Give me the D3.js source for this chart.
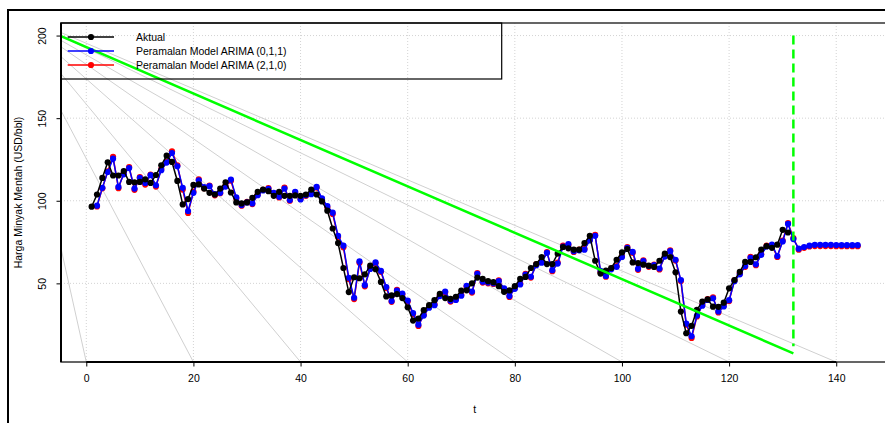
<!DOCTYPE html>
<html>
<head>
<meta charset="utf-8">
<script src="https://cdn.jsdelivr.net/npm/d3@7"></script>
<style>
  html, body { margin: 0; padding: 0; background: #fff; }
  svg { display: block; font-family: "Liberation Sans", Arial, Helvetica, sans-serif; }
</style>
</head>
<body>
<svg id="chart" width="885" height="423"></svg>
<script>
// ---- data -------------------------------------------------------------
// Monthly crude oil price (USD/bbl), t = 1 .. 131
const actualStart = 1;
const actual = [
  96.4, 103.8, 113.8, 123.3, 115.3, 115.3, 118.0, 111.4, 111.2, 111.4,
  113.0, 110.8, 115.6, 121.5, 127.3, 123.5, 112.0, 97.8, 101.0, 109.6,
  109.9, 107.4, 104.8, 103.8, 107.4, 111.2, 105.0, 99.0, 98.4, 99.0,
  101.8, 105.4, 106.8, 105.8, 103.0, 105.4, 103.0, 103.0, 103.2, 103.0,
  103.8, 106.8, 103.8, 99.6, 94.0, 83.2, 74.4, 59.3, 44.7, 53.7,
  53.1, 55.5, 60.7, 58.6, 50.9, 42.1, 42.7, 43.5, 41.1, 35.5,
  27.5, 28.7, 33.8, 36.8, 39.8, 43.7, 41.1, 40.6, 41.9, 45.6,
  45.8, 50.0, 53.5, 52.7, 51.3, 50.7, 48.3, 44.9, 45.7, 48.3,
  52.7, 53.9, 59.3, 61.7, 65.9, 61.7, 61.7, 68.0, 72.0, 71.2,
  70.4, 70.4, 74.4, 78.8, 63.7, 55.9, 57.7, 59.3, 64.3, 68.7,
  70.8, 62.7, 62.3, 61.3, 60.7, 59.9, 63.7, 68.0, 65.9, 56.7,
  32.9, 19.8, 24.3, 34.0, 39.0, 40.3, 35.9, 35.8, 38.3, 47.0,
  52.0, 57.0, 63.0, 63.0, 65.8, 70.4, 72.5, 71.5, 73.4, 82.4,
  80.8
];

// Fitted values and forecasts, t = 2 .. 144
const fittedStart = 2;
const arima011 = [
  97.0, 107.8, 117.4, 125.5, 108.4, 116.0, 119.8, 107.4, 113.8, 110.8,
  115.5, 109.4, 118.5, 123.1, 128.9, 120.9, 107.8, 93.8, 104.8, 112.4,
  108.2, 108.8, 104.0, 104.8, 108.6, 112.8, 102.0, 97.4, 99.0, 98.4,
  103.4, 106.2, 107.2, 104.8, 102.4, 107.4, 100.4, 105.4, 100.8, 103.4,
  104.0, 108.4, 101.4, 96.8, 92.8, 78.8, 72.8, 53.4, 41.3, 63.3,
  48.9, 58.7, 62.7, 57.5, 47.8, 39.3, 45.6, 43.8, 39.6, 32.0,
  25.0, 30.5, 35.3, 36.8, 42.3, 45.0, 39.5, 40.0, 42.5, 48.5,
  45.0, 55.7, 51.0, 50.5, 50.0, 51.3, 47.0, 42.3, 46.7, 49.3,
  55.3, 54.0, 61.0, 62.5, 68.4, 58.0, 62.0, 72.3, 73.8, 69.5,
  70.0, 70.4, 76.0, 78.8, 57.5, 54.5, 58.5, 60.0, 66.0, 71.5,
  69.0, 58.8, 63.5, 60.5, 61.0, 59.0, 66.2, 69.5, 64.3, 52.0,
  25.6, 18.0, 30.5, 36.5, 40.0, 41.0, 33.0, 36.0, 39.8, 51.3,
  55.5, 60.5, 65.5, 61.5, 67.3, 72.3, 73.5, 66.5, 75.4, 86.0,
  76.8, 71.0, 72.0, 72.8, 73.3, 73.3, 73.3, 73.3, 73.2, 73.2,
  73.1, 73.1, 73.1
];
const arima210 = [
  96.6, 107.5, 117.8, 126.6, 107.6, 116.8, 120.4, 106.6, 114.3, 109.8,
  115.9, 108.6, 119.2, 123.6, 129.9, 121.5, 106.8, 92.6, 105.6, 112.9,
  107.6, 109.2, 103.3, 104.6, 109.1, 112.1, 101.3, 97.0, 99.4, 98.0,
  103.9, 106.6, 107.6, 104.2, 102.0, 107.9, 100.0, 105.0, 101.2, 103.0,
  104.4, 108.0, 100.8, 96.0, 92.0, 78.0, 71.8, 52.6, 40.5, 62.5,
  48.2, 59.3, 62.1, 57.0, 47.2, 38.8, 46.0, 43.2, 39.0, 31.4,
  24.2, 31.0, 35.8, 37.4, 42.8, 44.5, 39.0, 40.5, 43.0, 48.0,
  44.4, 56.2, 50.5, 50.0, 49.6, 51.8, 46.4, 41.8, 47.2, 49.8,
  55.8, 53.5, 61.5, 63.0, 68.9, 57.4, 62.6, 72.8, 73.2, 69.0,
  70.4, 70.9, 76.4, 79.3, 56.8, 54.0, 59.0, 60.5, 66.5, 72.0,
  68.4, 58.2, 64.0, 60.0, 61.4, 58.4, 66.7, 70.0, 63.8, 51.4,
  25.0, 17.0, 30.0, 37.0, 40.5, 41.5, 32.4, 36.5, 39.3, 51.8,
  56.0, 60.0, 66.0, 61.0, 67.8, 72.8, 73.0, 66.0, 75.9, 86.5,
  77.4, 70.4, 71.5, 72.3, 72.6, 72.6, 72.6, 72.6, 72.5, 72.5,
  72.5, 72.5, 72.5
];

const xTicks = [0, 20, 40, 60, 80, 100, 120, 140];
const yTicks = [50, 100, 150, 200];
const trendLine = [[-5, 200], [132, 7.6]];     // solid green line (t, value)
const forecastCut = [[132, 12], [132, 200]];    // dashed green marker (t, value)
const legendLabels = ["Aktual", "Peramalan Model ARIMA (0,1,1)", "Peramalan Model ARIMA (2,1,0)"];
const seriesColors = ["#000000", "#0000ff", "#ff0000"];

// ---- layout -------------------------------------------------------------
const W = 885, H = 423;
const plot = { left: 61, top: 23, right: 888.3, bottom: 362 };
const frame = { left: 8, top: 10 };
const fontSize = 10.5;
const dotR = 3.1;

const svg = d3.select("#chart");

const x = d3.scaleLinear().domain([-4.72, 149.72]).range([plot.left, plot.right]);
const y = d3.scaleLinear().domain([2.4, 207.6]).range([plot.bottom, plot.top]);

const toPoints = (arr, start) => arr.map((v, i) => ({ t: start + i, v }));
const series = [
  { data: toPoints(arima210, fittedStart), color: seriesColors[2] },
  { data: toPoints(arima011, fittedStart), color: seriesColors[1] },
  { data: toPoints(actual, actualStart), color: seriesColors[0] }
];

svg.append("defs").append("clipPath").attr("id", "plotClip")
  .append("rect")
  .attr("x", plot.left).attr("y", plot.top)
  .attr("width", plot.right - plot.left).attr("height", plot.bottom - plot.top);

// outer figure frame
svg.append("rect")
  .attr("x", frame.left).attr("y", frame.top)
  .attr("width", W + 40).attr("height", H + 40)
  .attr("fill", "none").attr("stroke", "#000").attr("stroke-width", 2);

const inner = svg.append("g").attr("clip-path", "url(#plotClip)");

// dotted grid
inner.selectAll("line.gx").data(xTicks).join("line")
  .attr("x1", d => x(d)).attr("x2", d => x(d))
  .attr("y1", plot.top).attr("y2", plot.bottom)
  .attr("stroke", "#d3d3d3").attr("stroke-width", 1).attr("stroke-dasharray", "1,2");
inner.selectAll("line.gy").data(yTicks).join("line")
  .attr("x1", plot.left).attr("x2", plot.right)
  .attr("y1", d => y(d)).attr("y2", d => y(d))
  .attr("stroke", "#d3d3d3").attr("stroke-width", 1).attr("stroke-dasharray", "1,2");

// grey guide rays from the figure corner to each x tick on the axis
inner.selectAll("line.ray").data(xTicks).join("line")
  .attr("x1", frame.left).attr("y1", frame.top)
  .attr("x2", d => x(d)).attr("y2", plot.bottom)
  .attr("stroke", "#d0d0d0").attr("stroke-width", 1);

// series: lines then points
const line = d3.line().x(d => x(d.t)).y(d => y(d.v));
series.forEach(s => {
  inner.append("path").datum(s.data)
    .attr("d", line).attr("fill", "none")
    .attr("stroke", s.color).attr("stroke-width", 1.5);
  inner.append("g").selectAll("circle").data(s.data).join("circle")
    .attr("cx", d => x(d.t)).attr("cy", d => y(d.v)).attr("r", dotR)
    .attr("fill", s.color);
});

// green trend line and forecast marker
inner.append("line")
  .attr("x1", x(trendLine[0][0])).attr("y1", y(trendLine[0][1]))
  .attr("x2", x(trendLine[1][0])).attr("y2", y(trendLine[1][1]))
  .attr("stroke", "#00ff00").attr("stroke-width", 2.5);
inner.append("line")
  .attr("x1", x(forecastCut[0][0])).attr("y1", y(forecastCut[1][1]))
  .attr("x2", x(forecastCut[1][0])).attr("y2", y(forecastCut[0][1]))
  .attr("stroke", "#00ff00").attr("stroke-width", 2.5).attr("stroke-dasharray", "9,5");

// plot box and axes
svg.append("rect")
  .attr("x", plot.left).attr("y", plot.top)
  .attr("width", plot.right - plot.left).attr("height", plot.bottom - plot.top)
  .attr("fill", "none").attr("stroke", "#333").attr("stroke-width", 1.5);

const xAxis = d3.axisBottom(x).tickValues(xTicks).tickSize(4.5).tickPadding(8).tickFormat(d3.format("d"));
const gx = svg.append("g").attr("transform", `translate(0,${plot.bottom})`).call(xAxis);
gx.select(".domain").remove();
gx.append("line").attr("x1", x(xTicks[0])).attr("x2", x(xTicks[xTicks.length - 1]))
  .attr("stroke", "#000").attr("stroke-width", 2);
gx.selectAll(".tick line").attr("stroke", "#000");
gx.selectAll(".tick text").attr("fill", "#000")
  .style("font-size", fontSize + "px").style("font-family", '"Liberation Sans", Arial, sans-serif');

const yAxis = d3.axisLeft(y).tickValues(yTicks).tickSize(4.5).tickFormat(d3.format("d"));
const gy = svg.append("g").attr("transform", `translate(${plot.left},0)`).call(yAxis);
gy.select(".domain").remove();
gy.append("line").attr("y1", plot.top).attr("y2", plot.bottom)
  .attr("stroke", "#000").attr("stroke-width", 2);
gy.selectAll(".tick line").attr("stroke", "#000");
gy.selectAll(".tick text").remove();
gy.selectAll(".tick").append("text")
  .attr("transform", "translate(-15.3,0) rotate(-90)")
  .attr("text-anchor", "middle")
  .attr("fill", "#000")
  .style("font-size", fontSize + "px").style("font-family", '"Liberation Sans", Arial, sans-serif')
  .text(d => d);

// axis titles
svg.append("text")
  .attr("transform", `translate(21.7,${(plot.top + plot.bottom) / 2}) rotate(-90)`)
  .attr("text-anchor", "middle").style("font-size", fontSize + "px")
  .text("Harga Minyak Mentah (USD/bbl)");
svg.append("text")
  .attr("x", (plot.left + plot.right) / 2).attr("y", 412.5)
  .attr("text-anchor", "middle").style("font-size", fontSize + "px")
  .text("t");

// legend
const legend = svg.append("g");
legend.append("rect")
  .attr("x", plot.left).attr("y", plot.top).attr("width", 440.7).attr("height", 56)
  .attr("fill", "none").attr("stroke", "#000").attr("stroke-width", 1.2);
legendLabels.forEach((label, i) => {
  const cy = 37 + i * 14;
  legend.append("line").attr("x1", 67.7).attr("x2", 114).attr("y1", cy).attr("y2", cy)
    .attr("stroke", seriesColors[i]).attr("stroke-width", 1.5);
  legend.append("circle").attr("cx", 91).attr("cy", cy).attr("r", dotR).attr("fill", seriesColors[i]);
  legend.append("text").attr("x", 136).attr("y", cy + 3.7)
    .style("font-size", fontSize + "px").text(label);
});
</script>
</body>
</html>
